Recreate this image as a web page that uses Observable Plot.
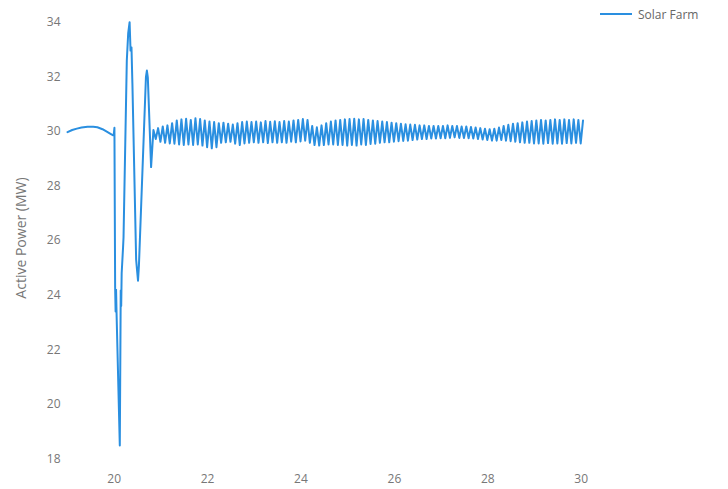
<!DOCTYPE html>
<html><head><meta charset="utf-8">
<script src="https://cdn.jsdelivr.net/npm/d3@7"></script>
<script src="https://cdn.jsdelivr.net/npm/@observablehq/plot@0.6"></script>
<style>
body{margin:0;background:#fff;}
#wrap{position:relative;width:728px;height:489px;}
#legend{position:absolute;left:600px;top:6px;font:12px "Open Sans",sans-serif;color:#666;display:flex;align-items:center;height:16px;}
#legend .sw{display:inline-block;width:32px;height:2px;background:#2a8fe0;margin-right:6px;}
</style></head><body>
<div id="wrap"><div id="legend"><span class="sw"></span><span>Solar Farm</span></div></div>
<script>
const seriesName = "Solar Farm";
const xTicks = [20, 22, 24, 26, 28, 30];
const yTicks = [18, 20, 22, 24, 26, 28, 30, 32, 34];

// pre-fault and fault transient (time s, active power MW)
const transientTime = [19.0,19.1,19.2,19.3,19.43,19.55,19.64,19.75,19.85,19.93,19.97,19.99,20.005,20.02,20.03,20.04,20.05,20.12,20.14,20.15,20.16,20.19,20.2,20.27,20.3,20.33,20.35,20.37,20.39,20.47,20.49,20.51,20.53,20.68,20.7,20.72,20.79];
const transientPower = [29.97,30.05,30.1,30.14,30.17,30.17,30.15,30.08,29.98,29.9,29.86,29.87,30.13,24.29,23.4,24.2,23.37,18.49,24.17,23.6,24.8,25.76,26.12,32.6,33.6,34.0,32.96,33.08,31.75,25.3,24.9,24.53,25.1,32.0,32.23,31.98,28.69];

// post-fault oscillation (peaks and troughs)
const oscTime = [
20.84,20.89,20.94,20.99,
21.04,21.09,21.14,21.19,21.24,21.29,21.34,21.39,21.44,21.49,21.54,21.59,21.64,21.69,21.74,21.79,21.84,21.89,21.94,21.99,
22.04,22.09,22.14,22.19,22.24,22.29,22.34,22.39,22.44,22.49,22.54,22.59,22.64,22.69,22.74,22.79,22.84,22.89,22.94,22.99,
23.04,23.09,23.14,23.19,23.24,23.29,23.34,23.39,23.44,23.49,23.54,23.59,23.64,23.69,23.74,23.79,23.84,23.89,23.94,23.99,
24.04,24.09,24.14,24.19,24.24,24.29,24.34,24.39,24.44,24.49,24.54,24.59,24.64,24.69,24.74,24.79,24.84,24.89,24.94,24.99,
25.04,25.09,25.14,25.19,25.24,25.29,25.34,25.39,25.44,25.49,25.54,25.59,25.64,25.69,25.74,25.79,25.84,25.89,25.94,25.99,
26.04,26.09,26.14,26.19,26.24,26.29,26.34,26.39,26.44,26.49,26.54,26.59,26.64,26.69,26.74,26.79,26.84,26.89,26.94,26.99,
27.04,27.09,27.14,27.19,27.24,27.29,27.34,27.39,27.44,27.49,27.54,27.59,27.64,27.69,27.74,27.79,27.84,27.89,27.94,27.99,
28.04,28.09,28.14,28.19,28.24,28.29,28.34,28.39,28.44,28.49,28.54,28.59,28.64,28.69,28.74,28.79,28.84,28.89,28.94,28.99,
29.04,29.09,29.14,29.19,29.24,29.29,29.34,29.39,29.44,29.49,29.54,29.59,29.64,29.69,29.74,29.79,29.84,29.89,29.94,29.99,
30.04];
const oscPower = [
30.05,29.72,30.12,29.62,
30.18,29.58,30.22,29.56,30.3,29.55,30.4,29.52,30.44,29.5,30.46,29.52,30.42,29.5,30.48,29.52,30.45,29.48,30.4,29.42,
30.36,29.38,30.34,29.42,30.3,29.58,30.32,29.6,30.28,29.62,30.25,29.55,30.3,29.5,30.34,29.56,30.36,29.58,30.34,29.6,
30.36,29.58,30.33,29.6,30.38,29.57,30.35,29.6,30.37,29.58,30.34,29.6,30.38,29.58,30.36,29.62,30.4,29.6,30.42,29.63,
30.45,29.66,30.42,29.58,30.2,29.5,30.15,29.48,30.22,29.5,30.3,29.52,30.36,29.52,30.4,29.5,30.42,29.5,30.44,29.48,
30.45,29.5,30.46,29.48,30.44,29.52,30.45,29.5,30.42,29.54,30.4,29.55,30.38,29.58,30.36,29.6,30.34,29.6,30.32,29.62,
30.3,29.64,30.28,29.65,30.26,29.66,30.25,29.68,30.24,29.7,30.22,29.72,30.22,29.72,30.2,29.74,30.2,29.74,30.2,29.75,
30.2,29.75,30.22,29.76,30.2,29.78,30.2,29.76,30.18,29.76,30.18,29.75,30.16,29.74,30.14,29.72,30.12,29.7,30.1,29.68,
30.08,29.66,30.1,29.66,30.14,29.68,30.2,29.66,30.24,29.64,30.28,29.62,30.3,29.6,30.33,29.58,30.36,29.58,30.38,29.56,
30.4,29.56,30.42,29.55,30.4,29.57,30.42,29.55,30.44,29.56,30.42,29.55,30.44,29.57,30.42,29.56,30.44,29.58,30.42,29.56,
30.4];

const rows = [
  ...transientTime.map((t, i) => ({t, p: transientPower[i], s: seriesName})),
  ...oscTime.map((t, i) => ({t, p: oscPower[i], s: seriesName}))
];

const chart = Plot.plot({
  width: 728, height: 489,
  marginLeft: 67, marginRight: 145, marginTop: 10, marginBottom: 24,
  style: {fontFamily: '"Open Sans", sans-serif', fontSize: "12px", color: "#777", background: "#fff"},
  x: {domain: [19, 30.05]},
  y: {domain: [17.755, 34.43]},
  marks: [
    Plot.axisX({ticks: xTicks, tickSize: 0, tickPadding: 9, label: null}),
    Plot.axisY({ticks: yTicks, tickSize: 0, tickPadding: 7, label: null}),
    Plot.axisY({ticks: [], tickSize: 0, label: "Active Power (MW)", labelAnchor: "center", labelArrow: "none", labelOffset: 51, fontSize: 14}),
    Plot.line(rows, {x: "t", y: "p", stroke: "#2a8fe0", strokeWidth: 2, strokeLinejoin: "round"})
  ]
});
document.getElementById("wrap").appendChild(chart);
</script>
</body></html>
